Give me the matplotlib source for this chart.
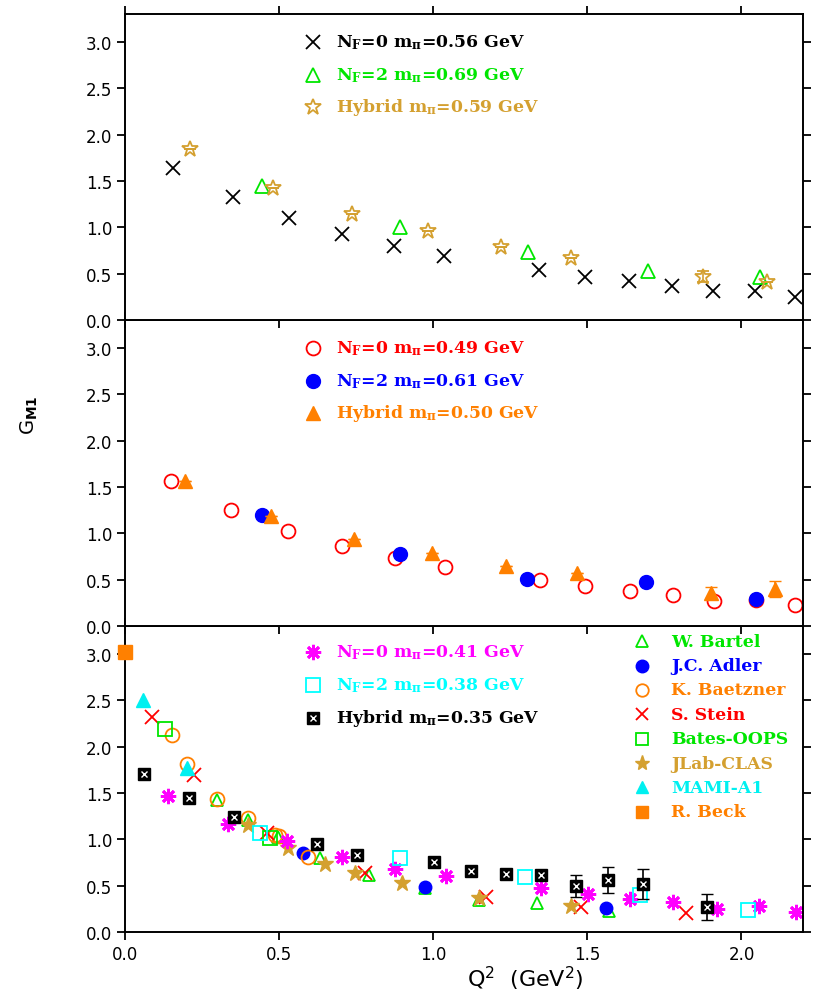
import matplotlib
matplotlib.use("Agg")
import matplotlib.pyplot as plt

plt.rcParams['mathtext.fontset'] = 'custom'
plt.rcParams['mathtext.rm'] = 'DejaVu Serif:bold'
plt.rcParams['mathtext.it'] = 'DejaVu Serif:bold'
plt.rcParams['mathtext.bf'] = 'DejaVu Serif:bold'
plt.rcParams['mathtext.sf'] = 'DejaVu Sans'

# ---- painel superior ----
top_nf0_x = [0.157, 0.349, 0.532, 0.705, 0.873, 1.036, 1.343, 1.491, 1.634, 1.774, 1.909, 2.045, 2.174]
top_nf0_y = [1.64, 1.33, 1.10, 0.93, 0.80, 0.69, 0.54, 0.47, 0.42, 0.37, 0.31, 0.31, 0.25]
top_nf2_x = [0.445, 0.892, 1.307, 1.696, 2.059]
top_nf2_y = [1.45, 1.00, 0.73, 0.53, 0.47]
top_hyb_x = [0.212, 0.481, 0.738, 0.983, 1.219, 1.447, 1.876, 2.084]
top_hyb_y = [1.85, 1.43, 1.14, 0.96, 0.79, 0.67, 0.47, 0.41]
top_hyb_err = [0.0, 0.0, 0.0, 0.0, 0.0, 0.0, 0.06, 0.0]

# ---- painel do meio ----
mid_nf0_x = [0.150, 0.344, 0.529, 0.705, 0.875, 1.039, 1.347, 1.494, 1.638, 1.778, 1.912, 2.048, 2.174]
mid_nf0_y = [1.56, 1.25, 1.03, 0.86, 0.73, 0.64, 0.50, 0.43, 0.38, 0.34, 0.27, 0.28, 0.23]
mid_nf2_x = [0.445, 0.892, 1.304, 1.689, 2.048]
mid_nf2_y = [1.20, 0.78, 0.51, 0.47, 0.29]
mid_hyb_x = [0.193, 0.474, 0.744, 0.997, 1.235, 1.468, 1.900, 2.110]
mid_hyb_y = [1.56, 1.19, 0.94, 0.79, 0.65, 0.57, 0.36, 0.40]
mid_hyb_err = [0.0, 0.0, 0.0, 0.0, 0.0, 0.0, 0.06, 0.09]

# ---- painel inferior (rede) ----
bot_nf0_x = [0.138, 0.333, 0.527, 0.703, 0.877, 1.042, 1.351, 1.501, 1.639, 1.778, 1.922, 2.058, 2.178]
bot_nf0_y = [1.47, 1.165, 0.985, 0.81, 0.68, 0.60, 0.47, 0.41, 0.36, 0.32, 0.25, 0.28, 0.22]
bot_nf2_x = [0.438, 0.893, 1.299, 1.672, 2.020]
bot_nf2_y = [1.07, 0.795, 0.59, 0.40, 0.24]
bot_hyb_x = [0.062, 0.209, 0.352, 0.622, 0.752, 1.003, 1.122, 1.237, 1.351, 1.463, 1.568, 1.680, 1.889]
bot_hyb_y = [1.70, 1.45, 1.24, 0.95, 0.83, 0.75, 0.66, 0.63, 0.61, 0.50, 0.56, 0.52, 0.27]
bot_hyb_err = [0.0, 0.0, 0.0, 0.0, 0.0, 0.0, 0.0, 0.0, 0.04, 0.12, 0.14, 0.16, 0.14]

# ---- dados experimentais ----
bartel_x = [0.30, 0.40, 0.497, 0.633, 0.79, 0.974, 1.15, 1.337, 1.57]
bartel_y = [1.42, 1.21, 1.02, 0.80, 0.61, 0.48, 0.35, 0.31, 0.23]
adler_x = [0.579, 0.974, 1.56]
adler_y = [0.85, 0.49, 0.26]
baetzner_x = [0.152, 0.20, 0.30, 0.40, 0.487, 0.50, 0.595]
baetzner_y = [2.12, 1.81, 1.44, 1.23, 1.05, 1.04, 0.81]
stein_x = [0.089, 0.224, 0.462, 0.78, 1.17, 1.48, 1.82]
stein_y = [2.32, 1.69, 1.07, 0.64, 0.38, 0.27, 0.20]
bates_x = [0.13, 0.47]
bates_y = [2.19, 1.01]
clas_x = [0.398, 0.53, 0.649, 0.747, 0.898, 1.147, 1.447]
clas_y = [1.15, 0.91, 0.73, 0.64, 0.53, 0.37, 0.28]
mami_x = [0.059, 0.20]
mami_y = [2.50, 1.77]
beck_x = [0.0]
beck_y = [3.02]

GREEN = '#00e600'
GOLD = '#d4a030'
ORANGE = '#ff8000'
CYAN = '#00f0f0'
LEG_FS = 12.4
ASTER = (8, 2, 0)

fig = plt.figure(figsize=(8.15, 9.95), dpi=100)
left, width = 0.1534, 0.832
h = 0.3075
b0 = 0.0623
ax_bot = fig.add_axes([left, b0, width, h])
ax_mid = fig.add_axes([left, b0 + h, width, h])
ax_top = fig.add_axes([left, b0 + 2 * h, width, h])

for ax in (ax_top, ax_mid, ax_bot):
    ax.set_xlim(0, 2.2)
    ax.set_ylim(0, 3.3)
    ax.set_yticks([0, 0.5, 1.0, 1.5, 2.0, 2.5, 3.0])
    ax.set_yticklabels(['0.0', '0.5', '1.0', '1.5', '2.0', '2.5', '3.0'])
    ax.set_xticks([0, 0.5, 1.0, 1.5, 2.0])
    ax.tick_params(direction='out', length=6, width=1.3, labelsize=12, pad=3,
                   top=True, right=True, bottom=True, left=True)
    for s in ax.spines.values():
        s.set_linewidth(1.4)
for ax in (ax_top, ax_mid):
    ax.tick_params(labelbottom=False)
ax_bot.set_xticklabels(['0.0', '0.5', '1.0', '1.5', '2.0'])


def hybrid_box(ax, x, y, **kw):
    ax.plot(x, y, 's', ms=9, mfc='black', mec='black', ls='none', **kw)
    ax.plot(x, y, 'x', ms=5, mec='white', mew=1.0, ls='none', **kw)


def leg(ax, mx, tx, y, label, color, draw):
    draw(mx, y)
    ax.text(tx, y, label, color=color, fontsize=LEG_FS, family='DejaVu Serif',
            weight='bold', va='center', transform=ax.transAxes)


# painel superior
ax_top.plot(top_nf0_x, top_nf0_y, 'x', ms=10, mew=1.3, color='black', ls='none')
ax_top.plot(top_nf2_x, top_nf2_y, '^', ms=10, mew=1.3, mfc='none', mec=GREEN, ls='none')
ax_top.errorbar(top_hyb_x, top_hyb_y, yerr=top_hyb_err, fmt='*', ms=12, mew=1.3,
                mfc='none', mec=GOLD, ecolor=GOLD, capsize=4, elinewidth=1.2)

rows = [0.909, 0.801, 0.697]
mx, tx = 0.277, 0.311
T = ax_top.transAxes
leg(ax_top, mx, tx, rows[0], r'N$_F$=0 m$_\pi$=0.56 GeV', 'black',
    lambda x, y: ax_top.plot([x], [y], 'x', ms=10, mew=1.3, color='black', transform=T))
leg(ax_top, mx, tx, rows[1], r'N$_F$=2 m$_\pi$=0.69 GeV', GREEN,
    lambda x, y: ax_top.plot([x], [y], '^', ms=10, mew=1.3, mfc='none', mec=GREEN, transform=T))
leg(ax_top, mx, tx, rows[2], r'Hybrid m$_\pi$=0.59 GeV', GOLD,
    lambda x, y: ax_top.plot([x], [y], '*', ms=12, mew=1.3, mfc='none', mec=GOLD, transform=T))

# painel do meio
ax_mid.plot(mid_nf0_x, mid_nf0_y, 'o', ms=10, mew=1.3, mfc='none', mec='red', ls='none')
ax_mid.plot(mid_nf2_x, mid_nf2_y, 'o', ms=10, color='blue', ls='none')
ax_mid.errorbar(mid_hyb_x, mid_hyb_y, yerr=mid_hyb_err, fmt='^', ms=10, color=ORANGE,
                ecolor=ORANGE, capsize=4, elinewidth=1.2)
M = ax_mid.transAxes
leg(ax_mid, mx, tx, rows[0], r'N$_F$=0 m$_\pi$=0.49 GeV', 'red',
    lambda x, y: ax_mid.plot([x], [y], 'o', ms=10, mew=1.3, mfc='none', mec='red', transform=M))
leg(ax_mid, mx, tx, rows[1], r'N$_F$=2 m$_\pi$=0.61 GeV', 'blue',
    lambda x, y: ax_mid.plot([x], [y], 'o', ms=10, color='blue', transform=M))
leg(ax_mid, mx, tx, rows[2], r'Hybrid m$_\pi$=0.50 GeV', ORANGE,
    lambda x, y: ax_mid.plot([x], [y], '^', ms=10, color=ORANGE, transform=M))

# painel inferior
ax_bot.plot(beck_x, beck_y, 's', ms=10, color=ORANGE, ls='none', clip_on=False, zorder=5)
ax_bot.plot(bartel_x, bartel_y, '^', ms=9, mew=1.3, mfc='none', mec=GREEN, ls='none')
ax_bot.plot(adler_x, adler_y, 'o', ms=9, color='blue', ls='none')
ax_bot.plot(baetzner_x, baetzner_y, 'o', ms=10, mew=1.3, mfc='none', mec=ORANGE, ls='none')
ax_bot.plot(stein_x, stein_y, 'x', ms=10, mew=1.3, color='red', ls='none')
ax_bot.plot(bates_x, bates_y, 's', ms=10, mew=1.3, mfc='none', mec=GREEN, ls='none')
ax_bot.plot(clas_x, clas_y, '*', ms=12, color=GOLD, ls='none')
ax_bot.plot(mami_x, mami_y, '^', ms=10, color=CYAN, ls='none')
ax_bot.plot(bot_nf0_x, bot_nf0_y, marker=ASTER, ms=11, mew=2.0, color='magenta', ls='none')
ax_bot.plot(bot_nf2_x, bot_nf2_y, 's', ms=10, mew=1.3, mfc='none', mec='cyan', ls='none')
ax_bot.errorbar(bot_hyb_x, bot_hyb_y, yerr=bot_hyb_err, fmt='none', ecolor='black',
                capsize=4, elinewidth=1.2)
hybrid_box(ax_bot, bot_hyb_x, bot_hyb_y)

B = ax_bot.transAxes
rowsb = [0.915, 0.808, 0.700]
leg(ax_bot, mx, tx, rowsb[0], r'N$_F$=0 m$_\pi$=0.41 GeV', 'magenta',
    lambda x, y: ax_bot.plot([x], [y], marker=ASTER, ms=11, mew=2.0, color='magenta', transform=B))
leg(ax_bot, mx, tx, rowsb[1], r'N$_F$=2 m$_\pi$=0.38 GeV', 'cyan',
    lambda x, y: ax_bot.plot([x], [y], 's', ms=10, mew=1.3, mfc='none', mec='cyan', transform=B))
leg(ax_bot, mx, tx, rowsb[2], r'Hybrid m$_\pi$=0.35 GeV', 'black',
    lambda x, y: hybrid_box(ax_bot, [x], [y], transform=B))

rmx, rtx = 0.763, 0.805
rrows = [0.951, 0.871, 0.791, 0.712, 0.632, 0.552, 0.473, 0.393]
leg(ax_bot, rmx, rtx, rrows[0], 'W. Bartel', GREEN,
    lambda x, y: ax_bot.plot([x], [y], '^', ms=9, mew=1.3, mfc='none', mec=GREEN, transform=B))
leg(ax_bot, rmx, rtx, rrows[1], 'J.C. Adler', 'blue',
    lambda x, y: ax_bot.plot([x], [y], 'o', ms=9, color='blue', transform=B))
leg(ax_bot, rmx, rtx, rrows[2], 'K. Baetzner', ORANGE,
    lambda x, y: ax_bot.plot([x], [y], 'o', ms=9, mew=1.3, mfc='none', mec=ORANGE, transform=B))
leg(ax_bot, rmx, rtx, rrows[3], 'S. Stein', 'red',
    lambda x, y: ax_bot.plot([x], [y], 'x', ms=9, mew=1.3, color='red', transform=B))
leg(ax_bot, rmx, rtx, rrows[4], 'Bates-OOPS', GREEN,
    lambda x, y: ax_bot.plot([x], [y], 's', ms=9, mew=1.3, mfc='none', mec=GREEN, transform=B))
leg(ax_bot, rmx, rtx, rrows[5], 'JLab-CLAS', GOLD,
    lambda x, y: ax_bot.plot([x], [y], '*', ms=11, color=GOLD, transform=B))
leg(ax_bot, rmx, rtx, rrows[6], 'MAMI-A1', CYAN,
    lambda x, y: ax_bot.plot([x], [y], '^', ms=9, color=CYAN, transform=B))
leg(ax_bot, rmx, rtx, rrows[7], 'R. Beck', ORANGE,
    lambda x, y: ax_bot.plot([x], [y], 's', ms=9, color=ORANGE, transform=B))

fig.text(0.644, 0.016, 'Q$^2$  (GeV$^2$)', fontsize=16, ha='center', va='center',
         family='DejaVu Sans', math_fontfamily='dejavusans')
fig.text(0.036, 0.583, r'G$_{\mathbf{M1}}$', fontsize=14, rotation=90, ha='center', va='center',
         family='DejaVu Sans', math_fontfamily='dejavusans')

plt.savefig('out.png', dpi=100)
